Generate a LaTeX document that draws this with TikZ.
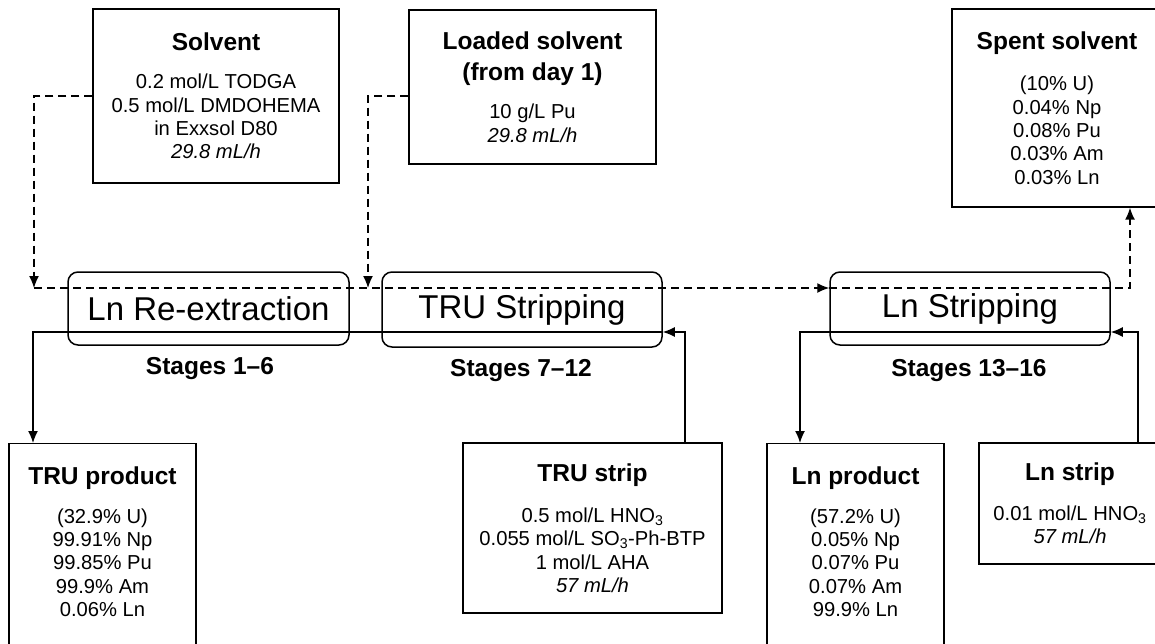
\documentclass[tikz,border=0pt]{standalone}
\usepackage{fontspec}
\setmainfont{Liberation Sans}
\usetikzlibrary{arrows.meta}

\newcommand{\bodyfont}{\fontsize{20.2}{23.3}\selectfont}
\newcommand{\headfont}{\fontsize{24.5}{26}\selectfont\bfseries}
\newcommand{\hd}[1]{{\headfont #1}}

\tikzset{
  feed/.style={draw, line width=1.4pt, align=center, inner sep=0pt, font=\bodyfont},
  txt/.style={align=center, inner sep=0pt, font=\bodyfont},
  stage/.style={draw, line width=1.5pt, rounded corners=10pt, inner sep=0pt,
    font=\fontsize{33}{36}\selectfont},
  stagelab/.style={font=\headfont},
  org/.style={line width=1.4pt, dash pattern=on 8pt off 5pt, -{Latex[length=12pt,width=10pt]}},
  aq/.style={line width=1.4pt, -{Latex[length=12pt,width=10pt]}},
}

\begin{document}
\begin{tikzpicture}[x=1pt,y=-1pt]

   \useasboundingbox (0,0) rectangle (1155,644);
   \clip (0,0) rectangle (1155,644);

   % feeds and products
   \node (solvent) at (216,96) [feed, minimum width=246pt, minimum height=174pt]
      {\hd{Solvent}\\[15pt] 0.2 mol/L TODGA\\ 0.5 mol/L DMDOHEMA\\ in Exxsol D80\\ \textit{29.8 mL/h}};
   \node (loaded) at (532.5,87) [feed, minimum width=247pt, minimum height=154pt]
      {\hd{Loaded solvent}\\[8pt] \hd{(from day 1)}\\[15pt] 10 g/L Pu\\ \textit{29.8 mL/h}};
   \node (spent) at (1057,108) [feed, minimum width=210pt, minimum height=198pt]
      {\hd{Spent solvent}\\[18pt] (10\% U)\\ 0.04\% Np\\ 0.08\% Pu\\ 0.03\% Am\\ 0.03\% Ln};

   \node (trustrip) at (592.5,528) [feed, minimum width=259pt, minimum height=170pt]
      {\hd{TRU strip}\\[18pt] 0.5 mol/L HNO\textsubscript{3}\\ 0.055 mol/L SO\textsubscript{3}-Ph-BTP\\ 1 mol/L AHA\\ \textit{57 mL/h}};
   \node (lnstrip) at (1070,503.5) [feed, minimum width=182pt, minimum height=121pt]
      {\hd{Ln strip}\\[16pt] 0.01 mol/L HNO\textsubscript{3}\\ \textit{57 mL/h}};

   \node (truprod) at (102.5,443) [feed, anchor=north, minimum width=187pt, minimum height=230pt] {};
   \node (truprodtxt) at (102.5,467) [txt, anchor=north]
      {\hd{TRU product}\\[15pt] (32.9\% U)\\ 99.91\% Np\\ 99.85\% Pu\\ 99.9\% Am\\ 0.06\% Ln};
   \node (lnprod) at (855.5,443) [feed, anchor=north, minimum width=177pt, minimum height=230pt] {};
   \node (lnprodtxt) at (855.5,467) [txt, anchor=north]
      {\hd{Ln product}\\[15pt] (57.2\% U)\\ 0.05\% Np\\ 0.07\% Pu\\ 0.07\% Am\\ 99.9\% Ln};

   % contactor banks
   \node (lnrex) at (208.5,308.5) [stage, minimum width=281pt, minimum height=73pt] {Ln Re-extraction};
   \node (trustr) at (522,309.5) [stage, minimum width=280pt, minimum height=75pt] {TRU Stripping};
   \node (lnstr) at (970,308.5) [stage, minimum width=280pt, minimum height=73pt] {Ln Stripping};

   \node (lab1) at (210,369) [stagelab] {Stages 1--6};
   \node (lab2) at (521,371) [stagelab] {Stages 7--12};
   \node (lab3) at (969,371) [stagelab] {Stages 13--16};

   \coordinate (orgA) at (34,288);
   \coordinate (orgB) at (368,288);
   \coordinate (orgC) at (1130,288);
   \coordinate (aqA) at (685,332);
   \coordinate (aqB) at (33,332);
   \coordinate (aqC) at (1138,332);
   \coordinate (aqD) at (800,332);

   % organic phase
   \draw [org] (solvent.west) -| (orgA);
   \draw [org] ([yshift=-9pt]loaded.west) -| (orgB);
   \draw [org] (orgA) -- (orgA -| lnstr.west);
   \draw [org] (orgA -| lnstr.west) -- (orgC) -- (orgC |- spent.south);

   % aqueous phase
   \draw [aq] (trustrip.north -| aqA) -- (aqA) -- (aqA -| trustr.east);
   \draw [aq] (aqA -| trustr.east) -- (aqB) -- (aqB |- truprod.north);
   \draw [aq] (lnstrip.north -| aqC) -- (aqC) -- (aqC -| lnstr.east);
   \draw [aq] (aqC -| lnstr.east) -- (aqD) -- (aqD |- lnprod.north);

\end{tikzpicture}
\end{document}
